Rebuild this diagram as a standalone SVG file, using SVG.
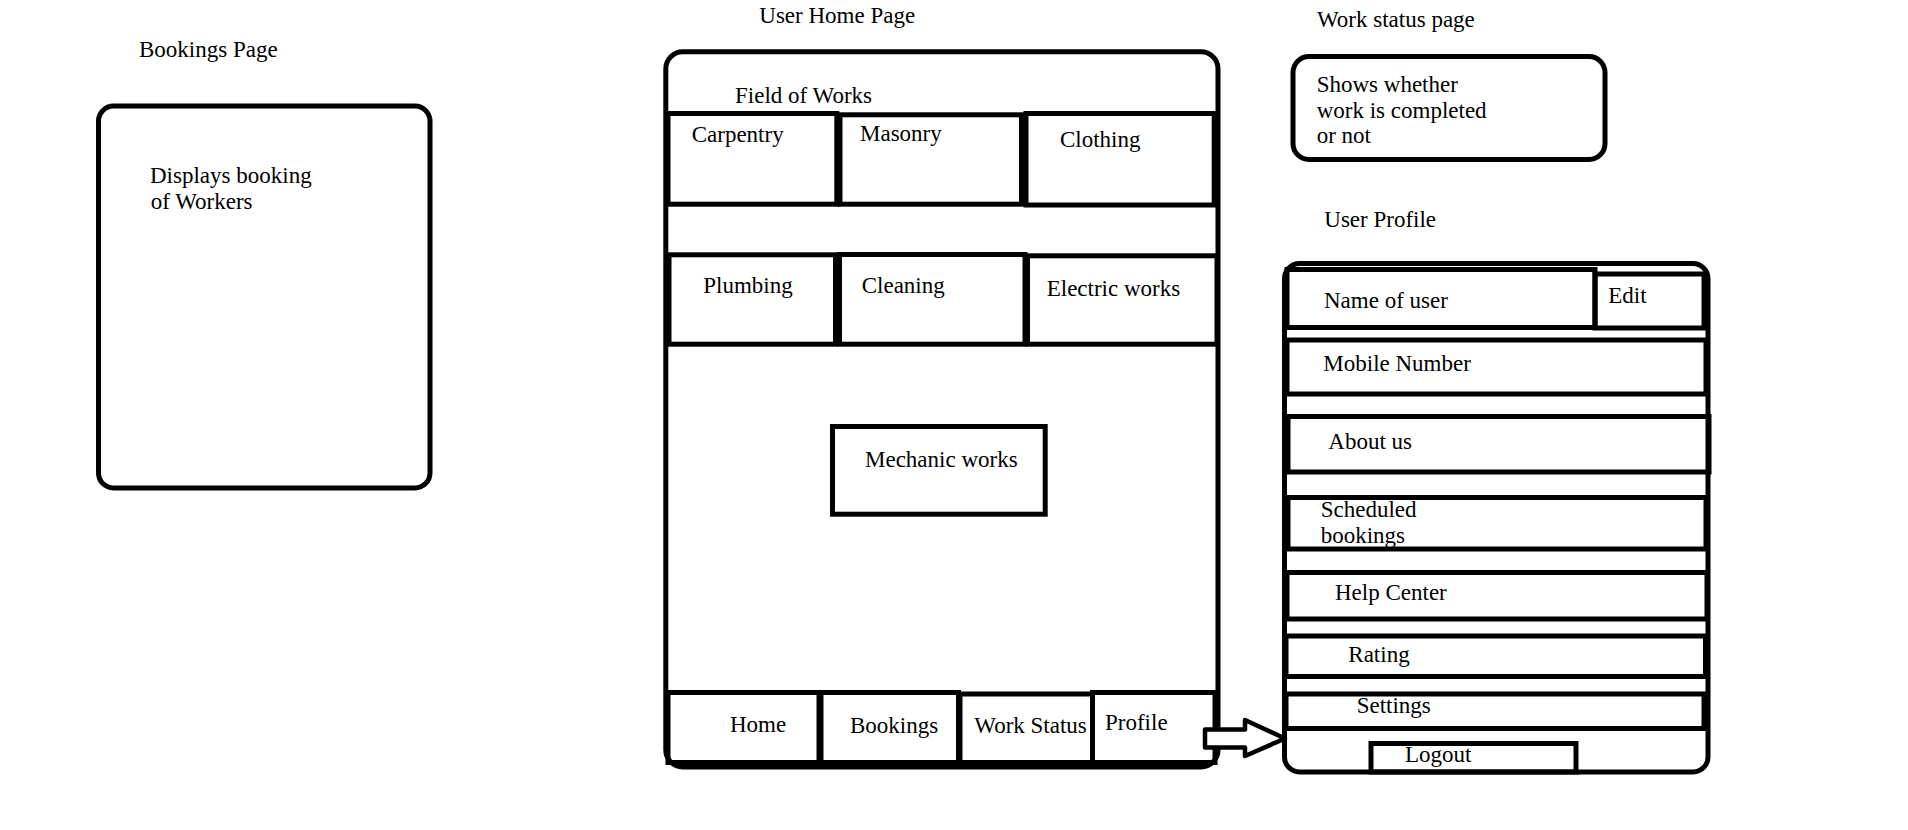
<svg xmlns="http://www.w3.org/2000/svg" width="1908" height="830" viewBox="0 0 1908 830">
<style>
text{font-family:"Liberation Serif","Times New Roman",serif;font-size:23px;fill:#000}
.b{fill:#fff;stroke:#000;stroke-width:5}
.c{fill:none;stroke:#000;stroke-width:5}
.a{fill:#fff;stroke:#000;stroke-width:4.5;stroke-linejoin:round}
</style>
<rect width="1908" height="830" fill="#fff"/>
<g id="bookings-page">
<text x="139" y="57">Bookings Page</text>
<rect class="b" x="98.5" y="106" width="331.5" height="382" rx="15"/>
<text x="150" y="183">Displays booking</text>
<text x="150.7" y="209">of Workers</text>
</g>
<g id="user-home-page">
<text x="759.3" y="22.7">User Home Page</text>
<rect class="b" x="665.8" y="51.8" width="552.2" height="715.2" rx="17"/>
<text x="735" y="103.3">Field of Works</text>
</g>
<g id="carpentry"><rect class="c" x="668" y="113.5" width="168.8" height="90.7"/><text x="691.7" y="141.7">Carpentry</text></g>
<g id="masonry"><rect class="c" x="840" y="114.8" width="181.5" height="89.4"/><text x="860" y="141">Masonry</text></g>
<g id="clothing"><rect class="c" x="1026" y="113.5" width="188.2" height="91.5"/><text x="1060" y="146.7">Clothing</text></g>
<g id="plumbing"><rect class="c" x="669" y="254.8" width="166.5" height="89.4"/><text x="703.3" y="293.3">Plumbing</text></g>
<g id="cleaning"><rect class="c" x="839.5" y="254.5" width="185.5" height="89.7"/><text x="861.7" y="293.3">Cleaning</text></g>
<g id="electric"><rect class="c" x="1027.5" y="255.8" width="189.5" height="88.4"/><text x="1046.7" y="296">Electric works</text></g>
<g id="mechanic"><rect class="c" x="832.5" y="426.5" width="212.7" height="87.7"/><text x="865" y="466.7">Mechanic works</text></g>
<g id="nav-home"><rect class="c" x="668" y="692.5" width="151" height="70"/><text x="730" y="731.7">Home</text></g>
<g id="nav-bookings"><rect class="c" x="821" y="692.5" width="137.5" height="70"/><text x="850" y="733.3">Bookings</text></g>
<g id="nav-work-status"><rect class="c" x="960" y="694" width="132.5" height="68.5"/><text x="974.3" y="733.3">Work Status</text></g>
<g id="nav-profile"><rect class="c" x="1092.5" y="692.5" width="122.5" height="70"/><text x="1105" y="730">Profile</text></g>
<g id="work-status-page">
<text x="1317" y="26.7">Work status page</text>
<rect class="b" x="1293" y="56.5" width="312" height="103" rx="16"/>
<text x="1316.7" y="91.7">Shows whether</text>
<text x="1316.7" y="117.7">work is completed</text>
<text x="1316.7" y="143.3">or not</text>
</g>
<g id="user-profile">
<text x="1324.3" y="226.7">User Profile</text>
<rect class="b" x="1284.5" y="263.5" width="423.5" height="508.5" rx="15"/>
</g>
<g id="name-of-user"><rect class="c" x="1287" y="269.5" width="308" height="58"/><text x="1324" y="308.3">Name of user</text></g>
<g id="edit"><rect class="c" x="1595" y="274" width="109" height="54"/><text x="1608.3" y="302.7">Edit</text></g>
<g id="mobile-number"><rect class="c" x="1287" y="340" width="419" height="54"/><text x="1323.3" y="370.7">Mobile Number</text></g>
<g id="about-us"><rect class="c" x="1288" y="416.5" width="421" height="55.5"/><text x="1328.3" y="449.3">About us</text></g>
<g id="scheduled-bookings"><rect class="c" x="1288" y="497.5" width="418" height="51.5"/><text x="1320.7" y="516.7">Scheduled</text><text x="1320.7" y="542.7">bookings</text></g>
<g id="help-center"><rect class="c" x="1287" y="572.5" width="420" height="46.5"/><text x="1335" y="600">Help Center</text></g>
<g id="rating"><rect class="c" x="1286" y="636" width="419.5" height="40.5"/><text x="1348.3" y="661.7">Rating</text></g>
<g id="settings"><rect class="c" x="1286" y="694" width="418" height="34.5"/><text x="1356.7" y="713.3">Settings</text></g>
<g id="logout"><rect class="c" x="1371" y="743.5" width="205" height="28.5"/><text x="1405" y="761.7">Logout</text></g>
<g id="connectors">
<polygon class="a" points="1205,729.5 1245,729.5 1245,720 1285,738.5 1245,756 1245,747.5 1205,747.5"/>
</g>
</svg>
